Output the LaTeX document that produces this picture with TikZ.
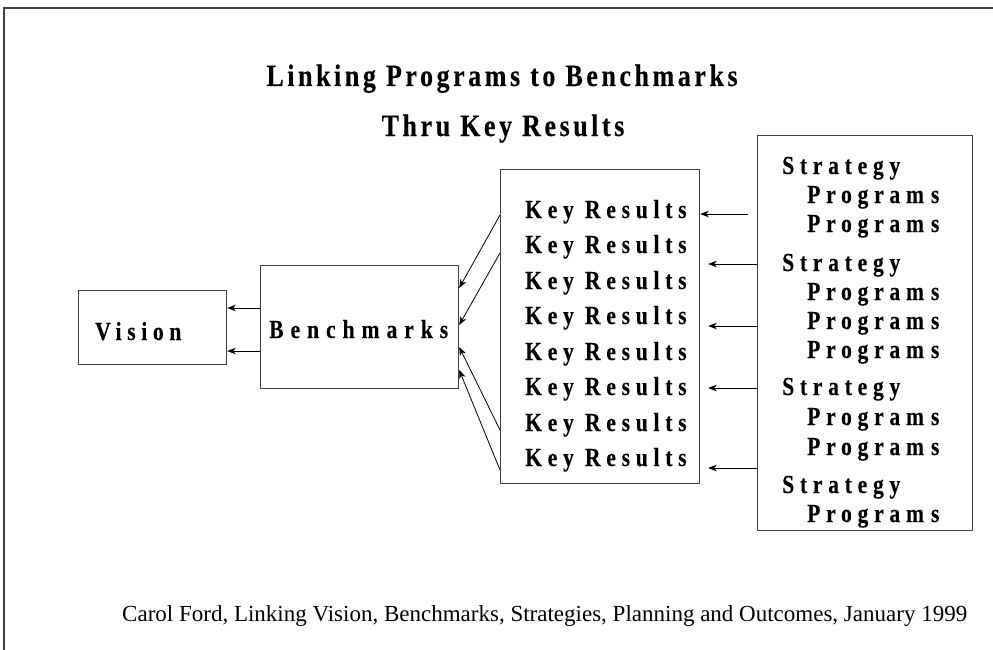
\documentclass[tikz,border=0pt]{standalone}
\usepackage{fontspec}
\setmainfont{Liberation Serif}
\usetikzlibrary{arrows.meta}
\definecolor{boxgray}{gray}{0.25}
\begin{document}
\begin{tikzpicture}[x=1pt,y=-1pt,
  box/.style={draw=boxgray, line width=1.2pt, inner sep=0pt, anchor=north west},
  krtext/.style={inner sep=0pt, anchor=base west, font=\bfseries\fontsize{26}{30}\selectfont\addfontfeature{FakeStretch=0.83,FakeBold=0.25,LetterSpace=22.1}},
  bigtext/.style={inner sep=0pt, anchor=base west, font=\bfseries\fontsize{26}{30}\selectfont\addfontfeature{FakeStretch=0.83,FakeBold=0.25,LetterSpace=26.8}},
  vistext/.style={inner sep=0pt, anchor=base west, font=\bfseries\fontsize{26}{30}\selectfont\addfontfeature{FakeStretch=0.83,FakeBold=0.25,LetterSpace=21.7}},
  titletext/.style={inner sep=0pt, anchor=base, font=\bfseries\fontsize{31}{36}\selectfont\addfontfeature{FakeStretch=0.84,FakeBold=0.25,LetterSpace=11.4}},
  foottext/.style={inner sep=0pt, anchor=base west, font=\fontsize{23}{28}\selectfont},
  arr/.style={-{Stealth[length=8.5pt,width=6.5pt,inset=2.5pt]}, line width=0.8pt, black},
]
\useasboundingbox (0,0) rectangle (993,650);
% frame
\draw[boxgray, line width=1.5pt] (4,650) -- (4,8) -- (993,8);

% titles
\node[titletext] (t1) at (502,86) {Linking Programs to Benchmarks};
\node[titletext] (t2) at (503,136) {Thru Key Results};

% boxes
\node[box, minimum width=148pt, minimum height=74pt] (vision) at (78,290) {};
\node[box, minimum width=198pt, minimum height=123pt] (bench) at (260,265) {};
\node[box, minimum width=199pt, minimum height=314pt] (kr) at (500,169) {};
\node[box, minimum width=215pt, minimum height=395pt] (strat) at (757,135) {};

% box labels
\node[vistext] (vl) at (95,340) {Vision};
\node[bigtext] (bl) at (269,338) {Benchmarks};

\foreach \i/\y in {1/218,2/253,3/289,4/324,5/360,6/395,7/431,8/466}
  \node[krtext] (k\i) at (525,\y) {Key Results};

\foreach \i/\y in {1/174,4/271,8/395,11/493}
  \node[krtext] (s\i) at (782,\y) {Strategy};
\foreach \i/\y in {2/203,3/232,5/300,6/329,7/358,9/425,10/455,12/522}
  \node[krtext] (p\i) at (807,\y) {Program\kern7pt s};

% footer
\node[foottext] (foot) at (122,621) {Carol Ford, Linking Vision, Benchmarks, Strategies, Planning and Outcomes, January 1999};

% arrows benchmarks -> vision
\draw[arr] (bench.west |- 0,308) -- (vision.east |- 0,308);
\draw[arr] (bench.west |- 0,351) -- (vision.east |- 0,351);

% arrows key results -> benchmarks
\draw[arr] (kr.west |- 0,215) -- (bench.east |- 0,288);
\draw[arr] (kr.west |- 0,253) -- (bench.east |- 0,325);
\draw[arr] (kr.west |- 0,430) -- (bench.east |- 0,347);
\draw[arr] (kr.west |- 0,470) -- (bench.east |- 0,370);

% arrows strategy -> key results
\coordinate (sfree) at (748,214);
\draw[arr] (sfree) -- (kr.east |- sfree);
\foreach \y in {264,326,388,468}
  \draw[arr] (strat.west |- 0,\y) -- ([xshift=8pt]kr.east |- 0,\y);
\end{tikzpicture}
\end{document}
